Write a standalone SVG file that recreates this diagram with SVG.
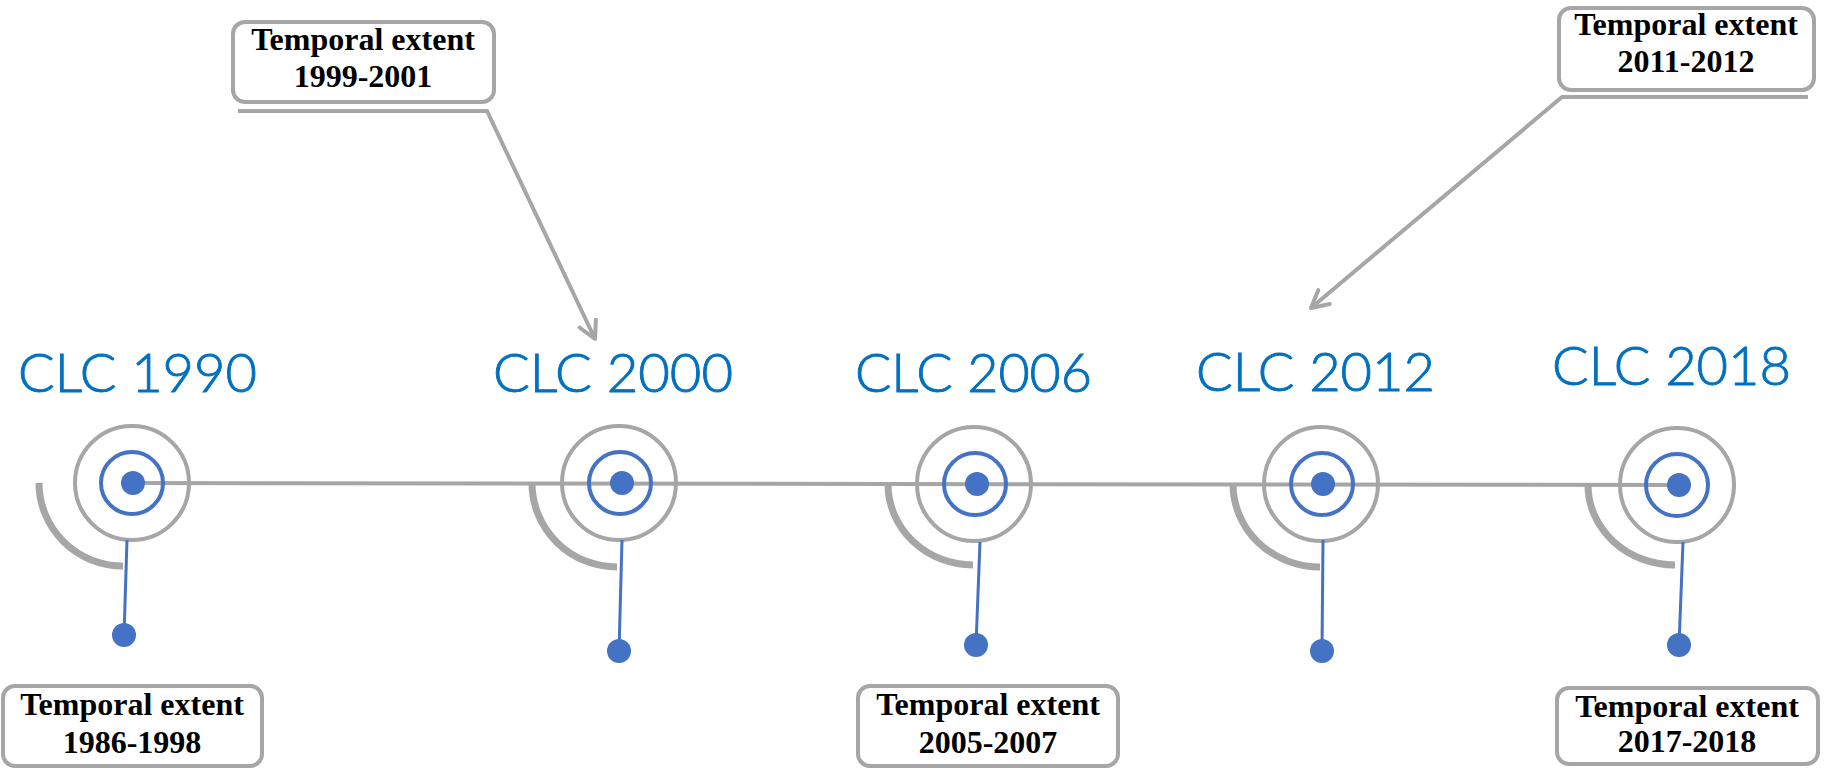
<svg xmlns="http://www.w3.org/2000/svg" width="1826" height="768" viewBox="0 0 1826 768">
<style>
.clc{font-family:Lato,"Open Sans","DejaVu Sans",sans-serif;font-weight:300;font-size:53px;fill:#0070C0;stroke:#0070C0;stroke-width:0.9}
.box{fill:#fff;stroke:#A6A6A6;stroke-width:4}
.bt{font-family:"Liberation Serif","Times New Roman",serif;font-weight:bold;font-size:32px;fill:#000;text-anchor:middle}
.gr{fill:none;stroke:#A6A6A6;stroke-width:4}
.br{fill:none;stroke:#4472C4;stroke-width:4}
.dot{fill:#4472C4}
.arc{fill:none;stroke:#A6A6A6;stroke-width:7}
.stem{stroke:#4472C4;stroke-width:3}
.conn{fill:none;stroke:#A6A6A6;stroke-width:4}
</style>
<defs>
<marker id="v" markerUnits="userSpaceOnUse" markerWidth="40" markerHeight="40" refX="0" refY="0" viewBox="-20 -20 40 40" orient="auto">
<path d="M -17 -9 L 0 0 L -17 9" fill="none" stroke="#A6A6A6" stroke-width="4" stroke-linecap="round" stroke-linejoin="round"/>
</marker>
</defs>
<rect width="1826" height="768" fill="#fff"/>
<g id="connectors">
<line x1="132" y1="483" x2="1678" y2="485" stroke="#A6A6A6" stroke-width="4"/>
<polyline class="conn" points="238,111 487,111 595,339" marker-end="url(#v)"/>
<polyline class="conn" points="1808,97 1562,97 1311,308" marker-end="url(#v)"/>
</g>
<g id="n1990">
<text class="clc" x="18" y="392" textLength="239" lengthAdjust="spacingAndGlyphs">CLC 1990</text>
<path class="arc" d="M 39 483 A 84 83 0 0 0 123 566"/>
<circle class="gr" cx="132" cy="483" r="57"/>
<circle class="br" cx="132" cy="483" r="31"/>
<circle class="dot" cx="133" cy="483" r="12"/>
<line class="stem" x1="127" y1="540" x2="124" y2="635"/>
<circle class="dot" cx="124" cy="635" r="12"/>
</g>
<g id="n2000">
<text class="clc" x="493" y="392" textLength="240" lengthAdjust="spacingAndGlyphs">CLC 2000</text>
<path class="arc" d="M 532 483 A 85 84 0 0 0 617 567"/>
<circle class="gr" cx="619" cy="483" r="57"/>
<circle class="br" cx="620" cy="483" r="31"/>
<circle class="dot" cx="622" cy="483" r="12"/>
<line class="stem" x1="622" y1="540" x2="619" y2="651"/>
<circle class="dot" cx="619" cy="651" r="12"/>
</g>
<g id="n2006">
<text class="clc" x="855" y="392" textLength="237" lengthAdjust="spacingAndGlyphs">CLC 2006</text>
<path class="arc" d="M 888 484 A 85 81 0 0 0 973 565"/>
<circle class="gr" cx="974" cy="484" r="57"/>
<circle class="br" cx="975" cy="484" r="31"/>
<circle class="dot" cx="977" cy="484" r="12"/>
<line class="stem" x1="980" y1="542" x2="976" y2="645"/>
<circle class="dot" cx="976" cy="645" r="12"/>
</g>
<g id="n2012">
<text class="clc" x="1196" y="391" textLength="239" lengthAdjust="spacingAndGlyphs">CLC 2012</text>
<path class="arc" d="M 1233 484 A 87 83 0 0 0 1320 567"/>
<circle class="gr" cx="1321" cy="484" r="57"/>
<circle class="br" cx="1322" cy="484" r="31"/>
<circle class="dot" cx="1323" cy="484" r="12"/>
<line class="stem" x1="1323" y1="540" x2="1322" y2="651"/>
<circle class="dot" cx="1322" cy="651" r="12"/>
</g>
<g id="n2018">
<text class="clc" x="1552" y="385" textLength="239" lengthAdjust="spacingAndGlyphs">CLC 2018</text>
<path class="arc" d="M 1588 485 A 87 80 0 0 0 1675 565"/>
<circle class="gr" cx="1677" cy="485" r="57"/>
<circle class="br" cx="1677" cy="485" r="31"/>
<circle class="dot" cx="1679" cy="485" r="12"/>
<line class="stem" x1="1683" y1="542" x2="1679" y2="645"/>
<circle class="dot" cx="1679" cy="645" r="12"/>
</g>
<g id="b1986">
<rect class="box" x="3" y="686" width="259" height="80" rx="12"/>
<text class="bt" x="132" y="715">Temporal extent</text>
<text class="bt" x="132" y="753">1986-1998</text>
</g>
<g id="b1999">
<rect class="box" x="233" y="22" width="261" height="80" rx="12"/>
<text class="bt" x="363" y="50">Temporal extent</text>
<text class="bt" x="363" y="87">1999-2001</text>
</g>
<g id="b2005">
<rect class="box" x="858" y="686" width="260" height="80" rx="12"/>
<text class="bt" x="988" y="715">Temporal extent</text>
<text class="bt" x="988" y="753">2005-2007</text>
</g>
<g id="b2011">
<rect class="box" x="1559" y="8" width="255" height="82" rx="12"/>
<text class="bt" x="1686" y="35">Temporal extent</text>
<text class="bt" x="1686" y="72">2011-2012</text>
</g>
<g id="b2017">
<rect class="box" x="1557" y="688" width="261" height="76" rx="12"/>
<text class="bt" x="1687" y="717">Temporal extent</text>
<text class="bt" x="1687" y="752">2017-2018</text>
</g>
</svg>
